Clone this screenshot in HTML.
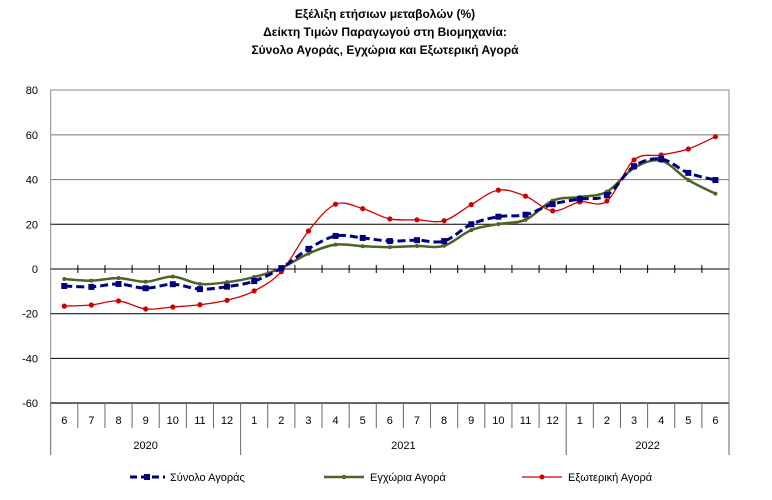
<!DOCTYPE html>
<html><head><meta charset="utf-8"><style>
html,body{margin:0;padding:0;background:#fff;}
svg{display:block;font-family:"Liberation Sans",sans-serif;}
</style></head><body>
<svg id="s" width="772" height="500" viewBox="0 0 772 500">
<g font-weight="bold" font-size="12" text-anchor="middle" fill="#000">
<text x="385" y="18">Εξέλιξη ετήσιων μεταβολών (%)</text>
<text x="385" y="36">Δείκτη Τιμών Παραγωγού στη Βιομηχανία:</text>
<text x="385" y="54">Σύνολο Αγοράς, Εγχώρια και Εξωτερική Αγορά</text>
</g>
<g id="grid"></g>
<g id="ser"></g>
<g font-size="11" fill="#000">
<line x1="130" y1="477" x2="165" y2="477" stroke="#000080" stroke-width="3" stroke-dasharray="7,4"/>
<rect x="144" y="474" width="6" height="6" fill="#000080"/>
<text x="170" y="481">Σύνολο Αγοράς</text>
<line x1="324" y1="477" x2="364" y2="477" stroke="#4f6228" stroke-width="2.5"/>
<circle cx="344" cy="477" r="2.2" fill="#4f6228"/>
<text x="370" y="481">Εγχώρια Αγορά</text>
<line x1="522" y1="477" x2="562" y2="477" stroke="#d00000" stroke-width="1.3"/>
<circle cx="542" cy="477" r="2.5" fill="#d00000"/>
<text x="568" y="481">Εξωτερική Αγορά</text>
</g>
</svg>
<script>
var L=50.7,R=729,T=90,B=402.7,Z=269,U=44.7/20,n=25,w=(R-L)/n;
function Y(v){return Z-v*U;}
function X(i){return L+w*(i+0.5);}
var g='';
g+='<rect x="'+L+'" y="'+T+'" width="'+(R-L)+'" height="'+(B-T)+'" fill="none" stroke="#888" stroke-width="1"/>';
for(var v=-60;v<=80;v+=20){var y=Y(v);
 if(v<80)g+='<line x1="'+L+'" x2="'+R+'" y1="'+y+'" y2="'+y+'" stroke="'+(v>=40?'#777':'#000')+'" stroke-width="1"/>';
 g+='<text x="38" y="'+(y+4)+'" font-size="11" text-anchor="end">'+v+'</text>';}
var labs=[6,7,8,9,10,11,12,1,2,3,4,5,6,7,8,9,10,11,12,1,2,3,4,5,6];
for(var i=0;i<=n;i++){var x=L+w*i;
 if(i>0&&i<n)g+='<line x1="'+x+'" x2="'+x+'" y1="'+(Z-4)+'" y2="'+(Z+4)+'" stroke="#000"/>';
 var yb=(i==0||i==7||i==19||i==25)?455:428;
 g+='<line x1="'+x+'" x2="'+x+'" y1="'+B+'" y2="'+yb+'" stroke="#666"/>';}
for(var i=0;i<n;i++)g+='<text x="'+X(i)+'" y="424" font-size="11" text-anchor="middle">'+labs[i]+'</text>';
g+='<text x="'+(L+w*3.5)+'" y="449" font-size="11" text-anchor="middle">2020</text>';
g+='<text x="'+(L+w*13)+'" y="449" font-size="11" text-anchor="middle">2021</text>';
g+='<text x="'+(L+w*22)+'" y="449" font-size="11" text-anchor="middle">2022</text>';
document.getElementById('grid').innerHTML=g;
var red=[-16.6,-16.1,-14.3,-17.9,-17,-16,-14,-9.8,-1.2,17,29,27,22.4,22,21.6,28.8,35.3,32.6,26,30,30.4,48.8,51,53.7,59.2];
var blue=[-7.6,-8,-6.7,-8.6,-6.8,-9,-7.9,-5.4,0.4,9,14.8,13.9,12.5,12.9,12.5,20,23.4,24.3,29,31.3,33,46,49.2,43,39.8];
var green=[-4.5,-5.2,-4.1,-5.7,-3.4,-6.7,-5.9,-3.6,0.4,6.9,10.9,10.2,9.8,10.3,10.4,17.4,20.1,22,30.6,32.2,34.6,45.2,48.4,39.8,33.7];
function path(d){var p=d.map(function(v,i){return[X(i),Y(v)];});var s='M'+p[0][0]+','+p[0][1];
 for(var i=0;i<p.length-1;i++){var p0=p[i-1]||p[i],p1=p[i],p2=p[i+1],p3=p[i+2]||p2,t=6;
  s+=' C'+(p1[0]+(p2[0]-p0[0])/t)+','+(p1[1]+(p2[1]-p0[1])/t)+' '+(p2[0]-(p3[0]-p1[0])/t)+','+(p2[1]-(p3[1]-p1[1])/t)+' '+p2[0]+','+p2[1];}
 return s;}
var h='';
h+='<path d="'+path(green)+'" fill="none" stroke="#4f6228" stroke-width="2.5"/>';
green.forEach(function(v,i){h+='<circle cx="'+X(i)+'" cy="'+Y(v)+'" r="2" fill="#4f6228"/>';});
h+='<path d="'+path(red)+'" fill="none" stroke="#d00000" stroke-width="1.3"/>';
red.forEach(function(v,i){h+='<circle cx="'+X(i)+'" cy="'+Y(v)+'" r="2.6" fill="#d00000"/>';});
h+='<path d="'+path(blue)+'" fill="none" stroke="#000080" stroke-width="3" stroke-dasharray="8,4"/>';
blue.forEach(function(v,i){h+='<rect x="'+(X(i)-3)+'" y="'+(Y(v)-3)+'" width="6" height="6" fill="#000080"/>';});
document.getElementById('ser').innerHTML=h;
</script>
</body></html>
